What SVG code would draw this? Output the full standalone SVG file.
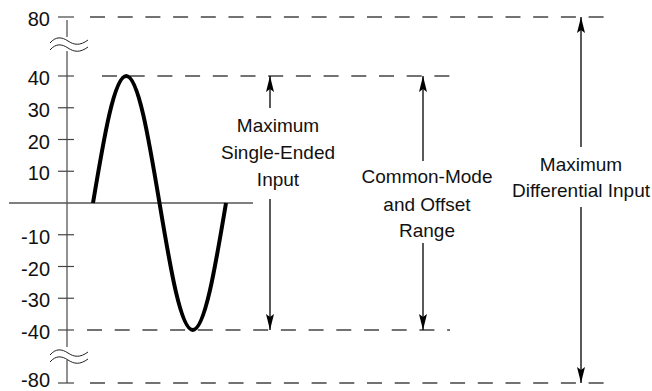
<svg xmlns="http://www.w3.org/2000/svg" width="652" height="391" viewBox="0 0 652 391">
<defs>
<style>
.lbl{font-family:"Liberation Sans",Arial,sans-serif;font-size:19px;fill:#111;text-anchor:middle}
.tk{font-family:"Liberation Sans",Arial,sans-serif;font-size:20px;fill:#111;text-anchor:end}
.dash{stroke:#444;stroke-width:1.3;stroke-dasharray:15 12.7;fill:none}
.ax{stroke:#555;stroke-width:1.3;fill:none}
.tick{stroke:#444;stroke-width:1.2}
.arr{stroke:#000;stroke-width:1.3;fill:none}
.wave{stroke:#222;stroke-width:1;fill:none}
</style>
<marker id="ah" viewBox="0 0 16 8" refX="16" refY="4" markerWidth="16" markerHeight="8" markerUnits="userSpaceOnUse" orient="auto">
<path d="M0,0 L16,4 L0,8 L3,4 Z" fill="#000"/>
</marker>
</defs>
<rect width="652" height="391" fill="#fff"/>
<g id="axis">
<line class="ax" x1="67" y1="20" x2="67" y2="37"/>
<line class="ax" x1="67" y1="51" x2="67" y2="347"/>
<line class="ax" x1="67" y1="360" x2="67" y2="383"/>
<line class="ax" x1="9" y1="203" x2="253" y2="203"/>
<path class="wave" d="M50,43 C56,36 62,37 68,41 C74,45 80,46 88,40"/>
<path class="wave" d="M50,50 C56,43 62,44 68,48 C74,52 80,53 88,47"/>
<path class="wave" d="M50,355 C56,348 62,349 68,353 C74,357 80,358 88,352"/>
<path class="wave" d="M50,362 C56,355 62,356 68,360 C74,364 80,365 88,359"/>
<g class="tick">
<line x1="58" y1="17" x2="74" y2="17"/>
<line x1="58" y1="76" x2="74" y2="76"/>
<line x1="58" y1="107.75" x2="74" y2="107.75"/>
<line x1="58" y1="139.5" x2="74" y2="139.5"/>
<line x1="58" y1="171.25" x2="74" y2="171.25"/>
<line x1="58" y1="234.75" x2="74" y2="234.75"/>
<line x1="58" y1="266.5" x2="74" y2="266.5"/>
<line x1="58" y1="298.25" x2="74" y2="298.25"/>
<line x1="58" y1="330" x2="74" y2="330"/>
<line x1="58" y1="383" x2="74" y2="383"/>
</g>
<text class="tk" x="50" y="26">80</text>
<text class="tk" x="50" y="85">40</text>
<text class="tk" x="50" y="116.75">30</text>
<text class="tk" x="50" y="148.5">20</text>
<text class="tk" x="50" y="180.25">10</text>
<text class="tk" x="50" y="243.75">-10</text>
<text class="tk" x="50" y="275.5">-20</text>
<text class="tk" x="50" y="307.25">-30</text>
<text class="tk" x="50" y="339">-40</text>
<text class="tk" x="50" y="386.5">-80</text>
</g>
<g id="levels">
<line class="dash" x1="90" y1="17" x2="613" y2="17"/>
<line class="dash" x1="102" y1="76" x2="450" y2="76"/>
<line class="dash" x1="87" y1="330" x2="450" y2="330"/>
<line class="dash" x1="90" y1="383" x2="605" y2="383"/>
</g>
<g id="signal">
<path d="M93,203 C103.84,137.94 114.22,76 126.25,76 C138.28,76 148.66,137.94 159.5,203 C170.34,268.06 180.72,330 192.75,330 C204.78,330 215.16,268.06 226,203" fill="none" stroke="#000" stroke-width="4" stroke-linecap="butt"/>
</g>
<g id="connectors">
<line class="arr" x1="270" y1="108" x2="270" y2="76" marker-end="url(#ah)"/>
<line class="arr" x1="270" y1="199" x2="270" y2="330" marker-end="url(#ah)"/>
<line class="arr" x1="423" y1="161" x2="423" y2="76" marker-end="url(#ah)"/>
<line class="arr" x1="423" y1="243" x2="423" y2="330" marker-end="url(#ah)"/>
<line class="arr" x1="581" y1="147" x2="581" y2="17" marker-end="url(#ah)"/>
<line class="arr" x1="581" y1="207" x2="581" y2="383" marker-end="url(#ah)"/>
</g>
<g id="label-single">
<text class="lbl" x="278" y="132">Maximum</text>
<text class="lbl" x="278" y="159">Single-Ended</text>
<text class="lbl" x="278" y="186">Input</text>
</g>
<g id="label-common">
<text class="lbl" x="427" y="183">Common-Mode</text>
<text class="lbl" x="427" y="211">and Offset</text>
<text class="lbl" x="427" y="237">Range</text>
</g>
<g id="label-diff">
<text class="lbl" x="581" y="171">Maximum</text>
<text class="lbl" x="581" y="197">Differential Input</text>
</g>
</svg>
